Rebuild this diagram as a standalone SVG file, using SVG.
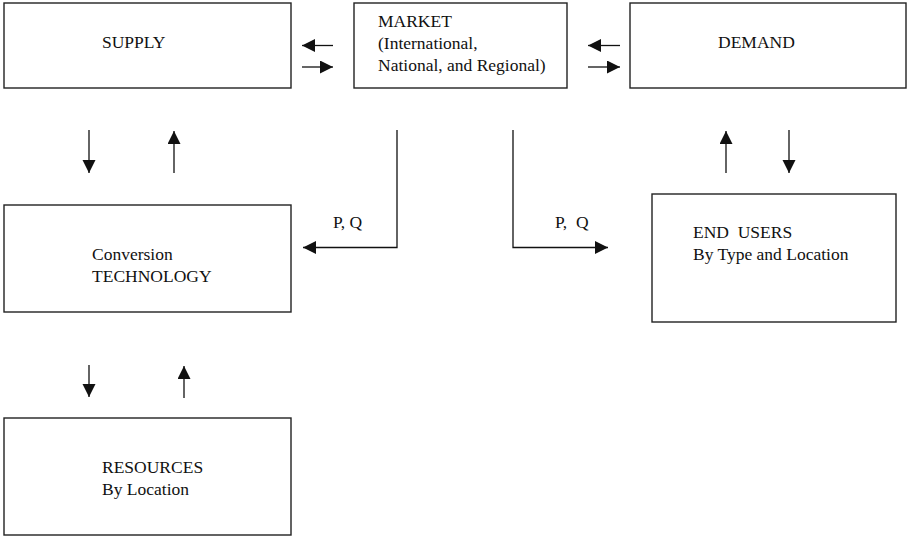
<svg xmlns="http://www.w3.org/2000/svg" width="907" height="536" viewBox="0 0 907 536">
<style>
  .box { fill: #ffffff; stroke: #222222; stroke-width: 1.4; }
  .lbl { font-family: "Liberation Serif", "Times New Roman", serif; font-size: 17.5px; fill: #111111; white-space: pre; }
  .con { fill: none; stroke: #111111; stroke-width: 1.3; marker-end: url(#ah); }
</style>
<defs>
  <marker id="ah" markerUnits="userSpaceOnUse" markerWidth="14" markerHeight="14" refX="13" refY="6.5" orient="auto">
    <polygon points="0,0 13,6.5 0,13" fill="#111111"/>
  </marker>
</defs>
<rect x="0" y="0" width="907" height="536" fill="#ffffff"/>
<g id="supply">
  <rect class="box" x="4" y="3" width="287" height="85"/>
  <text class="lbl" x="102" y="48">SUPPLY</text>
</g>
<g id="market">
  <rect class="box" x="354" y="3" width="213" height="85"/>
  <text class="lbl" x="378" y="27">MARKET</text>
  <text class="lbl" x="378" y="49">(International,</text>
  <text class="lbl" x="378" y="71">National, and Regional)</text>
</g>
<g id="demand">
  <rect class="box" x="630" y="3" width="276" height="85"/>
  <text class="lbl" x="718" y="48">DEMAND</text>
</g>
<g id="conversion">
  <rect class="box" x="4" y="205" width="287" height="107"/>
  <text class="lbl" x="92" y="260">Conversion</text>
  <text class="lbl" x="92" y="282">TECHNOLOGY</text>
</g>
<g id="endusers">
  <rect class="box" x="652" y="194" width="244" height="128"/>
  <text class="lbl" x="693" y="238">END  USERS</text>
  <text class="lbl" x="693" y="260">By Type and Location</text>
</g>
<g id="resources">
  <rect class="box" x="4" y="418" width="287" height="117"/>
  <text class="lbl" x="102" y="473">RESOURCES</text>
  <text class="lbl" x="102" y="495">By Location</text>
</g>
<g id="connectors">
  <line class="con" x1="333" y1="45.5" x2="302" y2="45.5"/>
  <line class="con" x1="302" y1="67" x2="333" y2="67"/>
  <line class="con" x1="620" y1="45.5" x2="588" y2="45.5"/>
  <line class="con" x1="588" y1="67" x2="620" y2="67"/>
  <line class="con" x1="89" y1="130" x2="89" y2="173"/>
  <line class="con" x1="174" y1="173" x2="174" y2="131"/>
  <line class="con" x1="89" y1="365" x2="89" y2="397"/>
  <line class="con" x1="184" y1="398" x2="184" y2="366"/>
  <line class="con" x1="726" y1="173" x2="726" y2="131"/>
  <line class="con" x1="789" y1="130" x2="789" y2="173"/>
  <polyline class="con" points="397,130 397,247.5 303,247.5"/>
  <polyline class="con" points="513,130 513,247.5 608,247.5"/>
  <text class="lbl" x="333" y="228">P, Q</text>
  <text class="lbl" x="555" y="228">P,  Q</text>
</g>
</svg>
